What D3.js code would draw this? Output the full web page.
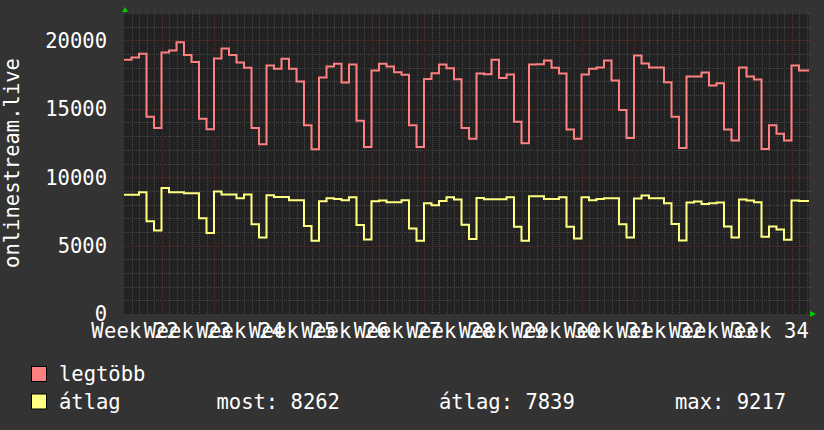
<!DOCTYPE html>
<html>
<head>
<meta charset="utf-8">
<script src="https://cdn.jsdelivr.net/npm/d3@7"></script>
<style>
  html, body { margin: 0; padding: 0; background: #333333; }
  svg { display: block; font-family: 'DejaVu Sans Mono', monospace; }
</style>
</head>
<body>
<div id="rrd-chart"></div>
<script>
// daily values, one per day, first day is the Wednesday of week 22
const maxValues = [
  18580, 18750, 19020, 14416, 13600, 19120, 19267, 19855, 18924, 18410,
  14270, 13510, 18680, 19414, 18924, 18385, 17993, 13600, 12407, 18164,
  17920, 18655, 17920, 16990, 13800, 12040, 17282, 18090, 18287, 16915,
  18238, 14122, 12211, 17797, 18287, 18090, 17675, 17478, 13800, 12211,
  17184, 17600, 18238, 17968, 17160, 13600, 12800, 17576, 17527, 18580,
  17258, 17503, 14048, 12480, 18238, 18262, 18532, 17993, 17576, 13485,
  12800, 17503, 17920, 18017, 18532, 17062, 14906, 12872, 18900, 18312,
  18017, 18017, 16940, 14416, 12137, 17356, 17356, 17650, 16694, 16866,
  13485, 12676, 18017, 17356, 17135, 12064, 13800, 13166, 12676, 18164,
  17797, 17797
];
const avgValues = [
  8707, 8707, 8903, 6772, 6110, 9217, 8903, 8903, 8830, 8830,
  6992, 5915, 8952, 8732, 8732, 8462, 8732, 6551, 5596, 8683,
  8560, 8560, 8316, 8316, 6429, 5351, 8242, 8462, 8413, 8316,
  8536, 6502, 5449, 8242, 8291, 8168, 8168, 8316, 6257, 5351,
  8095, 7948, 8266, 8536, 8364, 6527, 5474, 8487, 8389, 8389,
  8389, 8536, 6380, 5351, 8610, 8610, 8413, 8413, 8536, 6380,
  5523, 8536, 8316, 8413, 8462, 8462, 6551, 5596, 8438, 8658,
  8462, 8462, 8095, 6576, 5375, 8144, 8217, 8046, 8095, 8144,
  6404, 5596, 8364, 8291, 8168, 5645, 6404, 6184, 5425, 8291,
  8262, 8262
];
const weekLabels = ['Week 22', 'Week 23', 'Week 24', 'Week 25', 'Week 26', 'Week 27', 'Week 28',
  'Week 29', 'Week 30', 'Week 31', 'Week 32', 'Week 33', 'Week 34'];
const yTicks = [0, 5000, 10000, 15000, 20000];
const seriesNames = ['legtöbb', 'átlag'];
const seriesColors = ['#ff8080', '#ffff80'];
const statLabels = ['most: 8262', 'átlag: 7839', 'max: 9217'];

class RrdChart {
  constructor(_config) {
    this.config = {
      parentElement: _config.parentElement,
      containerWidth: 824,
      containerHeight: 430,
      margin: {top: 13, right: 15, bottom: 116, left: 124},
      fontSize: 20.5
    }
    this.initVis();
  }

  initVis() {
    let vis = this;
    vis.width = vis.config.containerWidth - vis.config.margin.left - vis.config.margin.right;
    vis.height = vis.config.containerHeight - vis.config.margin.top - vis.config.margin.bottom;

    vis.svgRoot = d3.select(vis.config.parentElement)
      .append('svg')
      .attr('width', vis.config.containerWidth)
      .attr('height', vis.config.containerHeight);

    vis.svgRoot.append('rect')
      .attr('width', vis.config.containerWidth)
      .attr('height', vis.config.containerHeight)
      .attr('fill', '#333333');

    vis.svg = vis.svgRoot.append('g')
      .attr('transform', `translate(${vis.config.margin.left},${vis.config.margin.top})`);

    // one unit = one day, 7.5px per day
    vis.xScale = d3.scaleLinear()
      .domain([0, vis.width / 7.5])
      .range([0, vis.width]);

    vis.yScale = d3.scaleLinear()
      .domain([0, 22000])
      .range([vis.height, 0]);

    vis.svg.append('clipPath')
      .attr('id', 'plot-clip')
      .append('rect')
      .attr('width', vis.width)
      .attr('height', vis.height);

    vis.renderVis();
  }

  renderVis() {
    let vis = this;
    const fs = vis.config.fontSize;
    const nDays = Math.floor(vis.xScale.domain()[1]) + 1;

    vis.svg.append('rect')
      .attr('width', vis.width)
      .attr('height', vis.height)
      .attr('fill', '#222222');

    // grid, minor first
    const grid = vis.svg.append('g').attr('class', 'grid');
    const dayLines = d3.range(1, nDays).filter(d => (d - 5) % 7 !== 0);
    const weekLines = d3.range(5, nDays, 7);
    const minorY = d3.range(1000, 22001, 1000).filter(v => v % 5000 !== 0);
    const majorY = yTicks.filter(v => v > 0);
    const minorColor = '#474747';
    const majorColor = '#55302f';

    grid.selectAll('line.vminor')
      .data(dayLines)
      .join('line')
      .attr('class', 'vminor')
      .attr('x1', d => Math.round(vis.xScale(d)) + 0.5)
      .attr('x2', d => Math.round(vis.xScale(d)) + 0.5)
      .attr('y1', -3)
      .attr('y2', vis.height)
      .attr('stroke', minorColor)
      .attr('stroke-dasharray', '1,1');

    grid.selectAll('line.hminor')
      .data(minorY)
      .join('line')
      .attr('class', 'hminor')
      .attr('x1', 0)
      .attr('x2', vis.width + 3)
      .attr('y1', d => Math.round(vis.yScale(d)) + 0.5)
      .attr('y2', d => Math.round(vis.yScale(d)) + 0.5)
      .attr('stroke', minorColor)
      .attr('stroke-dasharray', '1,1');

    grid.selectAll('line.vmajor')
      .data(weekLines)
      .join('line')
      .attr('class', 'vmajor')
      .attr('x1', d => Math.round(vis.xScale(d)) + 0.5)
      .attr('x2', d => Math.round(vis.xScale(d)) + 0.5)
      .attr('y1', -3)
      .attr('y2', vis.height)
      .attr('stroke', majorColor)
      .attr('stroke-dasharray', '1,1');

    grid.selectAll('line.hmajor')
      .data(majorY)
      .join('line')
      .attr('class', 'hmajor')
      .attr('x1', 0)
      .attr('x2', vis.width + 3)
      .attr('y1', d => Math.round(vis.yScale(d)) + 0.5)
      .attr('y2', d => Math.round(vis.yScale(d)) + 0.5)
      .attr('stroke', majorColor)
      .attr('stroke-dasharray', '1,1');

    // y tick labels
    vis.svg.append('g')
      .selectAll('text')
      .data(yTicks)
      .join('text')
      .attr('x', -17)
      .attr('y', d => vis.yScale(d))
      .attr('dy', '0.36em')
      .attr('text-anchor', 'end')
      .attr('fill', '#ffffff')
      .style('font-size', fs + 'px')
      .text(d => d);

    // week labels sit in the middle of each week
    vis.svg.append('g')
      .selectAll('text')
      .data(weekLabels)
      .join('text')
      .attr('x', (d, i) => vis.xScale(1.5 + i * 7))
      .attr('y', vis.height + 24)
      .attr('text-anchor', 'middle')
      .attr('fill', '#ffffff')
      .style('font-size', fs + 'px')
      .style('letter-spacing', '0.2px')
      .text(d => d);

    // step lines
    const line = d3.line()
      .x(d => vis.xScale(d[0]))
      .y(d => vis.yScale(d[1]))
      .curve(d3.curveStepAfter);

    [maxValues, avgValues].forEach((values, k) => {
      const pts = values.map((v, i) => [i, v]);
      pts.push([values.length, values[values.length - 1]]);
      vis.svg.append('path')
        .datum(pts)
        .attr('clip-path', 'url(#plot-clip)')
        .attr('fill', 'none')
        .attr('stroke', seriesColors[k])
        .attr('stroke-width', 2)
        .attr('d', line);
    });

    // arrows
    vis.svg.append('path')
      .attr('d', `M${-3},${-1} L${3},${-1} L0,${-6} Z`)
      .attr('transform', 'translate(1,0)')
      .attr('fill', '#00cc00');
    vis.svg.append('path')
      .attr('d', `M${vis.width + 1},${vis.height - 3} L${vis.width + 1},${vis.height + 3} L${vis.width + 7},${vis.height} Z`)
      .attr('fill', '#00cc00');

    // y axis title
    vis.svgRoot.append('text')
      .attr('transform', 'translate(19,163) rotate(-90)')
      .attr('text-anchor', 'middle')
      .attr('fill', '#ffffff')
      .style('font-size', fs + 'px')
      .text('onlinestream.live');

    // legend
    const legend = vis.svgRoot.append('g').attr('class', 'legend');
    legend.selectAll('rect')
      .data(seriesNames)
      .join('rect')
      .attr('x', 31.5)
      .attr('y', (d, i) => 366.5 + i * 27.5)
      .attr('width', 15)
      .attr('height', 15)
      .attr('fill', (d, i) => seriesColors[i])
      .attr('stroke', '#000000')
      .attr('stroke-width', 1);

    legend.selectAll('text.name')
      .data(seriesNames)
      .join('text')
      .attr('class', 'name')
      .attr('x', 59)
      .attr('y', (d, i) => 381 + i * 27.5)
      .attr('fill', '#ffffff')
      .style('font-size', fs + 'px')
      .text(d => d);

    const statX = [216.5, 439, 675];
    legend.selectAll('text.stat')
      .data(statLabels)
      .join('text')
      .attr('class', 'stat')
      .attr('x', (d, i) => statX[i])
      .attr('y', 408.5)
      .attr('fill', '#ffffff')
      .style('font-size', fs + 'px')
      .text(d => d);
  }
}

let rrdChart = new RrdChart({ parentElement: '#rrd-chart' });
</script>
</body>
</html>
